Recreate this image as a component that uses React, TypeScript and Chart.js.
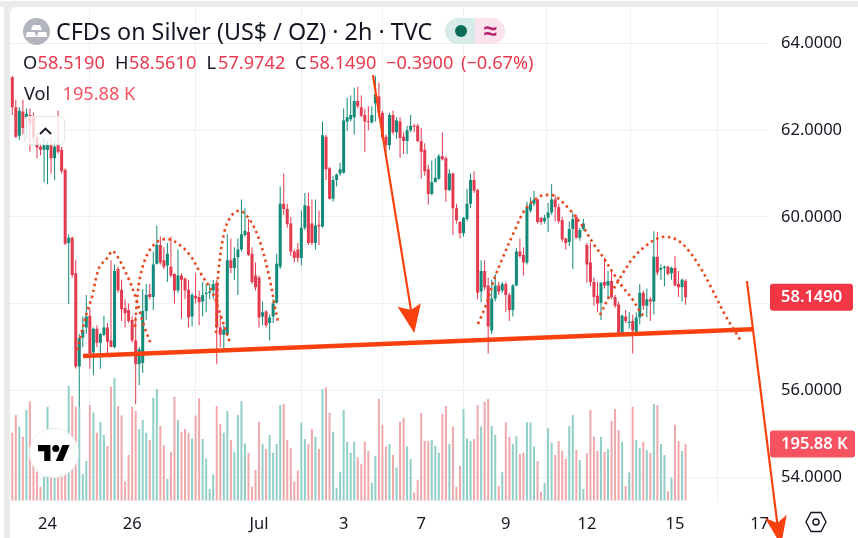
import { useEffect, useRef } from "react";
import { Chart, registerables, Plugin } from "chart.js";

Chart.register(...registerables);

const FONT = '"Noto Sans", sans-serif';
const RED = "#e23a4f";
const GREEN = "#128a79";
const VOL_RED = "#f0a8aa";
const VOL_GREEN = "#90cfc7";
const DRAWING = "#f8410f";
const DOTS = "#e8481f";

const OPENS = [
  63.22, 62.53, 61.87, 62.43, 62.3, 62.35, 62.3, 61.83, 61.62, 61.55,
  61.55, 61.65, 61.35, 61.65, 61.55, 61.08, 59.4, 59.52, 58.7, 56.55,
  57.22, 57.45, 57.72, 56.87, 57.42, 57.1, 57.28, 57.45, 57.15, 57.0,
  58.8, 58.32, 57.9, 57.85, 57.62, 57.15, 56.6, 56.63, 57.83, 58.22,
  58.15, 58.92, 59.35, 59.0, 58.88, 58.85, 58.68, 58.3, 58.65, 58.58,
  58.32, 57.7, 58.18, 58.15, 58.05, 58.22, 58.25, 58.3, 58.48, 57.45,
  57.28, 57.28, 59.0, 58.82, 59.07, 59.25, 59.58, 59.65, 59.15, 58.65,
  58.6, 57.7, 57.82, 57.55, 57.7, 58.02, 58.85, 60.3, 60.18, 59.85,
  59.2, 59.25, 59.05, 59.75, 60.25, 59.85, 59.4, 59.82, 59.78, 61.85,
  61.12, 60.42, 60.85, 61.0, 61.02, 62.2, 62.25, 62.3, 62.67, 62.53,
  62.35, 62.2, 62.18, 62.62, 62.78, 62.4, 61.85, 61.65, 62.35, 61.95,
  62.2, 61.85, 61.75, 62.0, 62.1, 62.1, 61.75, 61.55, 61.1, 60.53,
  60.8, 60.88, 61.4, 61.35, 60.62, 61.0, 60.2, 59.88, 59.62, 59.95,
  60.3, 60.85, 60.62, 58.28, 58.75, 58.42, 57.38, 58.12, 58.42, 58.3,
  58.45, 58.2, 57.85, 58.42, 59.2, 59.12, 58.95, 60.15, 60.3, 60.4,
  59.98, 59.9, 59.98, 60.1, 60.4, 60.22, 59.92, 59.5, 59.42, 59.72,
  60.0, 59.52, 59.72, 59.35, 58.95, 58.5, 58.18, 58.02, 58.5, 58.42,
  58.52, 58.15, 57.98, 57.33, 57.7, 57.55, 57.6, 57.35, 57.68, 58.25,
  57.95, 58.1, 58.05, 59.08, 58.78, 58.82, 58.85, 58.7, 58.82, 58.45,
  58.38, 58.519,
];
const HIGHS = [
  63.25, 62.7, 62.53, 62.7, 62.5, 62.5, 62.4, 61.95, 61.7, 61.83,
  61.75, 61.8, 61.75, 62.45, 61.62, 61.12, 59.6, 59.55, 59.0, 57.3,
  57.7, 58.2, 57.9, 57.45, 57.5, 57.32, 57.72, 57.55, 59.0, 58.9,
  58.85, 58.55, 58.1, 58.0, 57.7, 57.7, 57.0, 58.33, 58.45, 58.45,
  59.2, 59.8, 59.55, 59.3, 59.4, 59.55, 58.7, 59.25, 58.7, 58.6,
  58.55, 58.25, 58.7, 58.3, 58.5, 58.45, 58.45, 58.55, 58.55, 57.75,
  57.5, 59.6, 59.5, 59.3, 59.5, 60.4, 60.2, 59.95, 59.3, 58.95,
  58.65, 58.05, 57.85, 57.75, 58.1, 59.15, 60.7, 61.0, 60.3, 60.0,
  59.25, 59.4, 60.15, 60.55, 60.55, 60.4, 60.4, 60.15, 62.2, 61.9,
  61.15, 60.95, 61.0, 61.25, 62.5, 62.75, 62.8, 62.98, 63.0, 62.8,
  62.5, 62.55, 62.55, 63.25, 63.1, 62.45, 61.9, 62.4, 62.45, 62.3,
  62.3, 61.95, 62.1, 62.35, 62.15, 62.15, 62.05, 61.7, 61.2, 61.3,
  61.35, 61.45, 61.95, 61.4, 61.1, 61.02, 60.3, 59.9, 60.0, 60.65,
  61.0, 61.05, 60.65, 59.0, 59.0, 58.6, 58.55, 58.68, 58.5, 58.5,
  58.5, 58.25, 58.45, 59.28, 59.5, 59.3, 60.35, 60.45, 60.6, 60.42,
  60.0, 60.05, 60.32, 60.75, 60.5, 60.3, 60.0, 59.52, 59.9, 60.1,
  60.05, 59.75, 59.95, 59.4, 59.4, 58.6, 58.5, 58.5, 59.05, 58.75,
  58.75, 58.2, 58.05, 57.75, 57.85, 57.8, 57.75, 57.8, 58.45, 58.3,
  58.35, 58.15, 59.67, 59.65, 58.9, 58.88, 58.88, 58.85, 59.1, 58.75,
  58.58, 58.561,
];
const LOWS = [
  62.35, 61.82, 61.78, 61.9, 61.8, 61.5, 61.7, 61.35, 61.42, 60.8,
  60.75, 61.0, 60.85, 61.45, 61.0, 59.35, 57.99, 58.6, 56.5, 55.6,
  57.0, 57.3, 56.5, 56.35, 57.0, 56.5, 57.25, 56.78, 57.0, 56.97,
  58.25, 57.6, 57.45, 57.55, 57.1, 55.68, 56.12, 56.4, 57.63, 58.1,
  57.85, 58.9, 58.9, 58.8, 58.5, 58.6, 58.0, 58.25, 57.65, 58.1,
  57.45, 57.48, 58.0, 57.5, 57.7, 57.8, 58.1, 58.1, 56.6, 57.0,
  56.95, 57.25, 58.7, 58.55, 58.2, 59.2, 59.55, 59.1, 58.45, 58.3,
  57.45, 57.5, 57.45, 57.15, 57.55, 58.0, 58.8, 60.05, 59.75, 59.1,
  58.95, 58.95, 58.88, 59.7, 59.35, 59.35, 59.25, 59.35, 59.75, 60.85,
  60.4, 60.35, 60.7, 60.95, 61.0, 61.98, 62.2, 61.9, 62.5, 62.3,
  61.5, 62.0, 62.15, 62.2, 62.3, 61.78, 61.45, 61.55, 61.9, 61.8,
  61.36, 61.45, 61.45, 61.95, 61.95, 61.72, 60.88, 60.95, 60.28, 60.5,
  60.8, 60.85, 61.3, 60.35, 60.6, 59.58, 59.85, 59.5, 59.55, 59.9,
  60.2, 60.55, 58.1, 58.03, 58.3, 56.85, 57.3, 58.05, 58.2, 58.25,
  57.8, 57.6, 57.7, 58.4, 59.05, 58.65, 58.9, 60.1, 60.25, 59.85,
  59.82, 59.85, 59.65, 60.05, 59.9, 59.85, 59.42, 59.25, 59.32, 58.8,
  59.5, 59.45, 59.68, 58.48, 58.4, 57.95, 57.8, 57.62, 58.35, 58.1,
  58.1, 57.9, 57.3, 57.3, 57.55, 57.42, 56.85, 57.3, 57.52, 57.85,
  57.68, 57.6, 57.75, 58.65, 58.55, 58.4, 58.65, 58.55, 58.4, 58.15,
  58.05, 57.9742,
];
const CLOSES = [
  62.53, 61.85, 62.45, 62.05, 62.38, 62.15, 61.83, 61.6, 61.55, 61.65,
  61.65, 61.35, 61.62, 61.5, 61.05, 59.38, 59.52, 58.66, 56.55, 57.2,
  57.4, 57.7, 56.85, 57.42, 57.1, 57.3, 57.45, 57.12, 57.0, 58.75,
  58.3, 57.87, 57.78, 57.6, 57.15, 56.6, 56.95, 57.83, 58.2, 58.15,
  58.9, 59.35, 58.95, 58.85, 59.15, 58.65, 58.3, 58.65, 58.55, 58.3,
  57.68, 58.2, 58.12, 58.03, 58.2, 58.25, 58.28, 58.45, 57.45, 57.28,
  57.4, 59.0, 58.82, 59.05, 59.25, 59.6, 59.68, 59.12, 58.5, 58.38,
  57.68, 57.8, 57.5, 57.68, 58.0, 58.92, 60.3, 60.18, 59.83, 59.2,
  59.05, 59.05, 59.75, 60.27, 59.4, 59.4, 59.8, 59.78, 61.88, 61.1,
  60.42, 60.85, 60.98, 61.1, 62.22, 62.3, 62.35, 62.67, 62.55, 62.33,
  62.2, 62.18, 62.35, 62.82, 62.4, 61.83, 61.65, 62.35, 61.95, 62.22,
  61.82, 61.75, 62.0, 62.1, 62.08, 61.75, 61.5, 61.05, 60.53, 60.8,
  60.9, 61.4, 61.33, 60.62, 61.0, 60.2, 59.92, 59.62, 59.98, 60.3,
  60.85, 60.6, 58.25, 58.75, 58.38, 57.47, 58.12, 58.42, 58.28, 58.45,
  58.2, 57.85, 58.42, 59.2, 59.1, 58.95, 60.22, 60.3, 60.4, 59.88,
  59.88, 59.98, 60.1, 60.4, 60.22, 59.9, 59.48, 59.4, 59.72, 59.95,
  59.52, 59.7, 59.85, 58.9, 58.5, 58.15, 58.0, 58.48, 58.42, 58.52,
  58.15, 57.95, 57.33, 57.72, 57.6, 57.58, 57.38, 57.68, 58.25, 57.95,
  58.1, 58.05, 59.08, 58.72, 58.82, 58.85, 58.68, 58.82, 58.42, 58.38,
  58.55, 58.149,
];
// thousands
const VOLUMES = [
  235, 296, 256, 221, 313, 344, 141, 100, 48, 83,
  325, 94, 83, 83, 94, 106, 396, 362, 325, 319,
  92, 137, 331, 305, 235, 271, 227, 189, 394, 424,
  327, 294, 66, 158, 325, 310, 247, 279, 235, 210,
  356, 386, 258, 192, 75, 169, 359, 279, 238, 248,
  235, 215, 294, 354, 213, 146, 40, 91, 327, 265,
  235, 310, 210, 169, 296, 344, 198, 166, 48, 106,
  273, 196, 179, 227, 166, 196, 331, 334, 210, 182,
  66, 104, 270, 213, 196, 248, 221, 179, 386, 391,
  304, 238, 45, 100, 313, 204, 166, 204, 150, 127,
  204, 172, 62, 154, 351, 262, 187, 196, 158, 115,
  273, 287, 187, 144, 28, 71, 304, 206, 206, 210,
  190, 166, 300, 327, 196, 256, 48, 121, 317, 215,
  206, 213, 331, 256, 342, 351, 258, 227, 51, 100,
  270, 221, 196, 223, 161, 166, 271, 270, 187, 137,
  31, 62, 250, 200, 158, 206, 173, 144, 258, 296,
  175, 141, 40, 164, 313, 221, 172, 221, 168, 179,
  275, 317, 244, 203, 51, 98, 325, 210, 183, 203,
  175, 166, 334, 331, 196, 158, 33, 79, 262, 206,
  172, 195.88,
];

const X_TICKS = [10, 34, 70, 94, 116, 140, 163, 188, 212];
const X_LABELS = ["24", "26", "Jul", "3", "7", "9", "12", "15", "17"];
const Y_TICKS = [54, 56, 58, 60, 62, 64];

// hand drawn lines, in bar number / price
const NECKLINE = [
  { x: 20.06, y: 56.79 },
  { x: 209.9, y: 57.41 },
];
const ARROW_DOWN = [
  { x: 102.3, y: 63.27 },
  { x: 113.1, y: 57.85 },
];
const ARROW_EXIT = [
  { x: 208.4, y: 58.52 },
  { x: 217.0, y: 52.94 },
];
// tip, wing, notch, wing
const HEAD_DOWN = [
  { x: 114.04, y: 57.32 },
  { x: 109.3, y: 57.93 },
  { x: 113.1, y: 57.85 },
  { x: 115.9, y: 58.01 },
];
const HEAD_EXIT = [
  { x: 218.1, y: 52.43 },
  { x: 213.5, y: 53.06 },
  { x: 217.0, y: 52.94 },
  { x: 219.7, y: 53.13 },
];
const ARC_1 = [
  { x: 18.4, y: 56.93 }, { x: 21.2, y: 57.81 }, { x: 22.6, y: 58.15 }, { x: 24.6, y: 58.82 },
  { x: 26.9, y: 59.05 }, { x: 28.6, y: 59.21 }, { x: 32.8, y: 58.61 }, { x: 35.4, y: 58.04 },
  { x: 37.1, y: 57.55 }, { x: 39.4, y: 57.05 },
];
const ARC_2 = [
  { x: 34.8, y: 57.46 }, { x: 35.4, y: 58.08 }, { x: 36.2, y: 58.59 }, { x: 38.2, y: 59.12 },
  { x: 41.0, y: 59.42 }, { x: 43.9, y: 59.49 }, { x: 46.7, y: 59.4 }, { x: 50.4, y: 59.12 },
  { x: 53.2, y: 58.73 }, { x: 56.9, y: 58.24 }, { x: 58.9, y: 57.78 }, { x: 61.8, y: 57.09 },
];
const ARC_3 = [
  { x: 57.8, y: 57.32 }, { x: 58.1, y: 58.08 }, { x: 58.6, y: 58.84 }, { x: 60.3, y: 59.7 },
  { x: 62.3, y: 60.04 }, { x: 64.6, y: 60.14 }, { x: 67.4, y: 59.93 }, { x: 70.3, y: 59.42 },
  { x: 73.1, y: 58.54 }, { x: 74.5, y: 57.92 }, { x: 75.4, y: 57.58 },
];
const ARC_4 = [
  { x: 132.1, y: 57.53 }, { x: 134.4, y: 57.97 }, { x: 136.9, y: 58.61 }, { x: 139.2, y: 59.07 },
  { x: 142.6, y: 59.7 }, { x: 145.4, y: 60.16 }, { x: 148.9, y: 60.44 }, { x: 151.1, y: 60.5 },
  { x: 153.9, y: 60.48 }, { x: 158.2, y: 60.16 }, { x: 161.9, y: 59.77 }, { x: 164.7, y: 59.4 },
  { x: 167.6, y: 59.07 }, { x: 170.4, y: 58.71 }, { x: 173.2, y: 58.38 }, { x: 176.1, y: 58.08 },
  { x: 178.1, y: 57.81 }, { x: 179.5, y: 57.67 },
];
const ARC_5 = [
  { x: 166.7, y: 57.74 }, { x: 169.6, y: 58.2 }, { x: 172.4, y: 58.59 }, { x: 176.1, y: 59.05 },
  { x: 180.0, y: 59.35 }, { x: 183.2, y: 59.51 }, { x: 185.7, y: 59.54 }, { x: 188.6, y: 59.47 },
  { x: 191.7, y: 59.24 }, { x: 195.1, y: 58.84 }, { x: 197.9, y: 58.43 }, { x: 202.2, y: 57.74 },
  { x: 206.7, y: 57.14 },
];

const LAST_PRICE = 58.149;
const LAST_VOLUME = 195.88;

// tags on the price axis for the last close and last volume
const lastValueTags: Plugin = {
  id: "lastValueTags",
  beforeDatasetsDraw(chart) {
    const { ctx, scales } = chart;
    const tag = (y: number, text: string, color: string, width: number) => {
      ctx.save();
      ctx.fillStyle = color;
      ctx.beginPath();
      ctx.roundRect(770, y - 13.5, width, 27, 3);
      ctx.fill();
      ctx.fillStyle = "#ffffff";
      ctx.font = `600 16.5px ${FONT}`;
      ctx.textBaseline = "middle";
      ctx.textAlign = "left";
      ctx.fillText(text, 781, y);
      ctx.restore();
    };
    tag(scales.y.getPixelForValue(LAST_PRICE), LAST_PRICE.toFixed(4), "#f23645", 83);
    tag(scales.yVol.getPixelForValue(LAST_VOLUME), `${LAST_VOLUME.toFixed(2)} K`, "#f7525f", 85);
  },
};

// point elements outside the chart area get skipped, so the heads are filled here
const arrowHeads: Plugin = {
  id: "arrowHeads",
  afterDatasetsDraw(chart) {
    const { ctx, scales } = chart;
    [HEAD_DOWN, HEAD_EXIT].forEach((head) => {
      ctx.save();
      ctx.fillStyle = DRAWING;
      ctx.beginPath();
      head.forEach((p, i) => {
        const px = scales.x.getPixelForValue(p.x);
        const py = scales.y.getPixelForValue(p.y);
        if (i === 0) ctx.moveTo(px, py);
        else ctx.lineTo(px, py);
      });
      ctx.closePath();
      ctx.fill();
      ctx.restore();
    });
  },
};

function dottedArc(data: { x: number; y: number }[]) {
  return {
    type: "line" as const,
    data,
    order: 0,
    yAxisID: "y",
    borderColor: DOTS,
    borderWidth: 2.6,
    borderDash: [2.5, 3.5],
    pointRadius: 0,
    tension: 0.35,
    clip: false as const,
  };
}

function drawnLine(data: { x: number; y: number }[], width: number) {
  return {
    type: "line" as const,
    data,
    order: 0,
    yAxisID: "y",
    borderColor: DRAWING,
    borderWidth: width,
    pointRadius: 0,
    clip: false as const,
  };
}

const LEGEND_ROW = [
  { left: 23, text: "O", color: "#131722" },
  { left: 37.5, text: "58.5190", color: "#e8394f" },
  { left: 115, text: "H", color: "#131722" },
  { left: 129, text: "58.5610", color: "#e8394f" },
  { left: 206.5, text: "L", color: "#131722" },
  { left: 218, text: "57.9742", color: "#e8394f" },
  { left: 295, text: "C", color: "#131722" },
  { left: 309, text: "58.1490", color: "#e8394f" },
  { left: 386, text: "−0.3900", color: "#e8394f" },
  { left: 461, text: "(−0.67%)", color: "#e8394f" },
];

export default function App() {
  const canvasRef = useRef<HTMLCanvasElement>(null);

  useEffect(() => {
    if (!canvasRef.current) return;
    const candleColors = OPENS.map((o, i) => (CLOSES[i] >= o ? GREEN : RED));
    const volumeColors = OPENS.map((o, i) => (CLOSES[i] >= o ? VOL_GREEN : VOL_RED));

    const chart = new Chart(canvasRef.current, {
      type: "bar",
      data: {
        datasets: [
          dottedArc(ARC_1),
          dottedArc(ARC_2),
          dottedArc(ARC_3),
          dottedArc(ARC_4),
          dottedArc(ARC_5),
          drawnLine(NECKLINE, 4.5),
          drawnLine(ARROW_DOWN, 2.2),
          drawnLine(ARROW_EXIT, 2.2),
          {
            data: OPENS.map((o, i) => ({ x: i, y: [o, CLOSES[i]] })),
            order: 1,
            yAxisID: "y",
            grouped: false,
            barThickness: 3,
            minBarLength: 1,
            inflateAmount: 0,
            backgroundColor: candleColors,
          },
          {
            data: OPENS.map((_, i) => ({ x: i, y: [LOWS[i], HIGHS[i]] })),
            order: 2,
            yAxisID: "y",
            grouped: false,
            barThickness: 1,
            inflateAmount: 0,
            backgroundColor: candleColors,
          },
          {
            data: VOLUMES.map((v, i) => ({ x: i, y: v })),
            order: 3,
            yAxisID: "yVol",
            grouped: false,
            barThickness: 2,
            inflateAmount: 0,
            backgroundColor: volumeColors,
          },
        ] as any,
      },
      options: {
        responsive: false,
        animation: false,
        events: [],
        layout: { padding: { top: 7, left: 10, right: 0, bottom: 0 } },
        plugins: { legend: { display: false }, tooltip: { enabled: false } },
        scales: {
          x: {
            type: "linear",
            offset: false,
            min: -0.65,
            max: 214.38,
            border: { display: false },
            grid: { color: "#f0f0f3", drawTicks: false },
            afterFit: (s: any) => {
              s.height = 37.3;
              s.paddingLeft = 0;
              s.paddingRight = 0;
            },
            afterBuildTicks: (s: any) => {
              s.ticks = X_TICKS.map((value) => ({ value }));
            },
            ticks: {
              autoSkip: false,
              maxRotation: 0,
              padding: 14,
              color: "#131722",
              font: { family: FONT, size: 16.5 },
              callback: (v: any) => X_LABELS[X_TICKS.indexOf(v)],
            },
          },
          y: {
            position: "right",
            min: 53.455,
            max: 64.84,
            border: { display: false },
            grid: { color: "#f0f0f3", drawTicks: false },
            afterFit: (s: any) => {
              s.width = 90;
              s.paddingTop = 0;
              s.paddingBottom = 0;
            },
            afterBuildTicks: (s: any) => {
              s.ticks = Y_TICKS.map((value) => ({ value }));
            },
            ticks: {
              padding: 13,
              color: "#131722",
              font: { family: FONT, size: 16.5 },
              callback: (v: any) => Number(v).toFixed(4),
            },
          },
          yVol: { display: false, min: 0, max: 1705.7 },
        },
      },
      plugins: [lastValueTags, arrowHeads],
    });

    return () => chart.destroy();
  }, []);

  return (
    <div style={{ position: "fixed", left: 0, top: 0, width: 858, height: 538, background: "#fff", overflow: "hidden", fontFamily: FONT }}>
      {/* grey page edges round the card */}
      <div style={{ position: "absolute", left: 0, top: 1, width: 858, height: 6, background: "#ebebeb" }} />
      <div style={{ position: "absolute", left: 4, top: 1, width: 854, height: 537, background: "#ebebeb" }} />
      <div style={{ position: "absolute", left: 10, top: 7, width: 848, height: 531, background: "#fff", borderTopLeftRadius: 6 }} />

      <canvas ref={canvasRef} width={858} height={538} style={{ position: "absolute", left: 0, top: 0 }} />

      {/* legend */}
      <svg width={27} height={27} viewBox="0 0 27 27" style={{ position: "absolute", left: 23, top: 18 }}>
        <circle cx={13.5} cy={13.5} r={13.5} fill="#b2b5be" />
        <path d="M10 7h7l2 5H8zM4 14h7.5l2 5H2.5zM15.5 14H23l1.5 5H13.5z" fill="#fff" />
      </svg>
      <div style={{ position: "absolute", left: 56, top: 15, fontSize: 23.3, lineHeight: "33px", color: "#131722", whiteSpace: "nowrap" }}>
        CFDs on Silver (US$ / OZ) · 2h · TVC
      </div>
      <div style={{ position: "absolute", left: 445, top: 18, width: 60, height: 26, borderRadius: 13, overflow: "hidden", display: "flex" }}>
        <div style={{ width: 30, background: "#d7ece8", position: "relative" }}>
          <div style={{ position: "absolute", left: 10, top: 7, width: 12, height: 12, borderRadius: 6, background: "#0b6b58" }} />
        </div>
        <div style={{ width: 30, background: "#fbe2ec", color: "#b5206c", fontSize: 24, fontWeight: 700, lineHeight: "24px", textAlign: "center" }}>≈</div>
      </div>
      {LEGEND_ROW.map((item) => (
        <span key={item.left} style={{ position: "absolute", left: item.left, top: 50, fontSize: 18.2, lineHeight: "24px", color: item.color, whiteSpace: "pre" }}>
          {item.text}
        </span>
      ))}
      <span style={{ position: "absolute", left: 24, top: 81, fontSize: 18.2, lineHeight: "24px", color: "#131722" }}>Vol</span>
      <span style={{ position: "absolute", left: 62.5, top: 81, fontSize: 18.2, lineHeight: "24px", color: "#f7525f", whiteSpace: "pre" }}>195.88 K</span>

      {/* collapse legend button */}
      <div style={{ position: "absolute", left: 24, top: 116, width: 41, height: 29, boxSizing: "border-box", border: "1px solid #e6e6e6", borderRadius: 5, background: "rgba(255,255,255,0.78)" }}>
        <svg width={15} height={10} viewBox="0 0 15 10" style={{ position: "absolute", left: 13, top: 9 }}>
          <path d="M2 8l5.5-5.5L13 8" fill="none" stroke="#131722" strokeWidth={1.8} />
        </svg>
      </div>

      {/* TradingView badge */}
      <div style={{ position: "absolute", left: 29, top: 428, width: 50, height: 50, boxSizing: "border-box", borderRadius: 25, background: "#fff", border: "1px solid #e8ebee", display: "flex", alignItems: "center", justifyContent: "center" }}>
        <svg width={32} height={18} viewBox="0 4 36 18">
          <path d="M14 22H7V11H0V4h14v18zM28 22h-8l7.5-18h8L28 22z" fill="#000" />
          <circle cx={20} cy={8} r={4} fill="#000" />
        </svg>
      </div>

      {/* settings hexagon */}
      <svg width={24} height={24} viewBox="0 0 24 24" style={{ position: "absolute", left: 804, top: 510 }}>
        <path d="M7 2.5h10L22 12l-5 9.5H7L2 12z" fill="none" stroke="#131722" strokeWidth={1.4} />
        <circle cx={12} cy={12} r={3} fill="none" stroke="#131722" strokeWidth={1.4} />
      </svg>
    </div>
  );
}
